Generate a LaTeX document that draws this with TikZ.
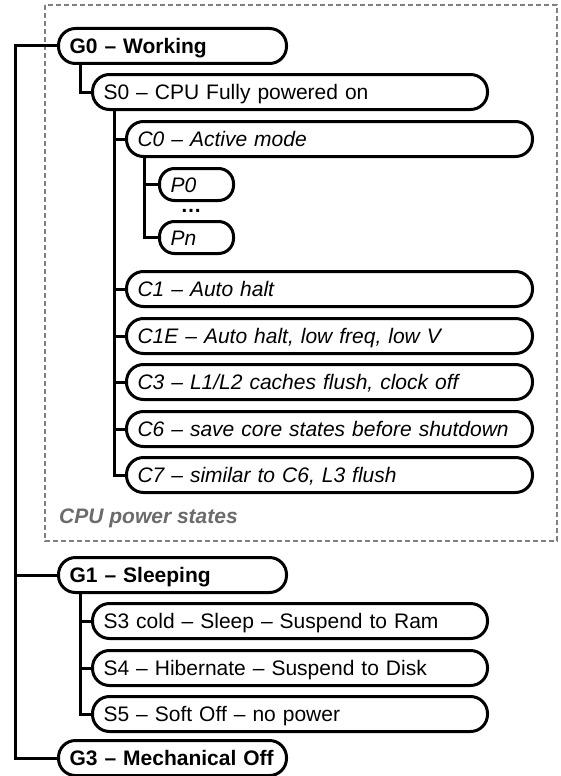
\documentclass[tikz,border=0pt]{standalone}
\usepackage{fontspec}
\setmainfont{Liberation Sans}
\begin{document}
\begin{tikzpicture}[x=1pt,y=-1pt,
  every node/.style={font=\fontsize{21}{25}\selectfont},
  box/.style={draw, line width=3pt, rounded corners=17pt, fill=white, anchor=north west,
    inner xsep=11pt, inner ysep=0pt, align=left, minimum height=35pt,
    text height=15pt, text depth=0pt},
  gbox/.style={box, text width=206pt, font=\fontsize{21}{25}\selectfont\bfseries},
  sbox/.style={box, text width=373pt},
  cbox/.style={box, text width=384pt, font=\fontsize{21}{25}\selectfont\itshape},
  pbox/.style={box, text width=52pt, minimum height=32pt, rounded corners=15pt, font=\fontsize{21}{25}\selectfont\itshape},
  conn/.style={line width=3pt},
  region/.style={draw=black!50, line width=2.4pt, dash pattern=on 5pt off 3pt}
]
\useasboundingbox (0,0) rectangle (561,776);
\draw[region] (45,5) rectangle (557,541);

% global states
\node[gbox] (g0) at (57,27) {G0 – Working};
\node[sbox] (s0) at (91,73) {S0 – CPU Fully powered on};
\node[cbox] (c0) at (125,120) {C0 – Active mode};
\node[pbox] (p0) at (158,167) {P0};
\node[font=\fontsize{21}{25}\selectfont\bfseries, anchor=base, inner sep=0pt] (dots) at (191,212) {…};
\node[pbox] (pn) at (158,220) {Pn};
\node[cbox] (c1) at (125,270) {C1 – Auto halt};
\node[cbox] (c1e) at (125,317) {C1E – Auto halt, low freq, low V};
\node[cbox] (c3) at (125,363) {C3 – L1/L2 caches flush, clock off};
\node[cbox] (c6) at (125,410) {C6 – save core states before shutdown};
\node[cbox] (c7) at (125,456) {C7 – similar to C6, L3 flush};
\node[anchor=base west, inner sep=0pt, text=black!58, font=\fontsize{21}{25}\selectfont\bfseries\itshape] (cps) at (59,523) {CPU power states};

\node[gbox] (g1) at (57,556) {G1 – Sleeping};
\node[sbox] (s3) at (91,602) {S3 cold – Sleep – Suspend to Ram};
\node[sbox] (s4) at (91,649) {S4 – Hibernate – Suspend to Disk};
\node[sbox] (s5) at (91,695) {S5 – Soft Off – no power};
\node[gbox] (g3) at (57,739) {G3 – Mechanical Off};

% connectors
\coordinate (spine) at (15,0);
\draw[conn] (g0.west) -| (spine |- g3.west) -- (g3.west);
\draw[conn] (spine |- g1.west) -- (g1.west);

\coordinate (gv) at ([xshift=23pt]g0.south west);
\draw[conn] (gv) |- (s0.west);

\coordinate (sv) at ([xshift=23pt]s0.south west);
\draw[conn] (sv) |- (c7.west);
\foreach \n in {c0,c1,c1e,c3,c6} \draw[conn] (sv |- \n.west) -- (\n.west);

\coordinate (cv) at ([xshift=19pt]c0.south west);
\draw[conn] (cv) |- (pn.west);
\draw[conn] (cv |- p0.west) -- (p0.west);

\coordinate (g1v) at ([xshift=23pt]g1.south west);
\draw[conn] (g1v) |- (s5.west);
\foreach \n in {s3,s4} \draw[conn] (g1v |- \n.west) -- (\n.west);
\end{tikzpicture}
\end{document}
